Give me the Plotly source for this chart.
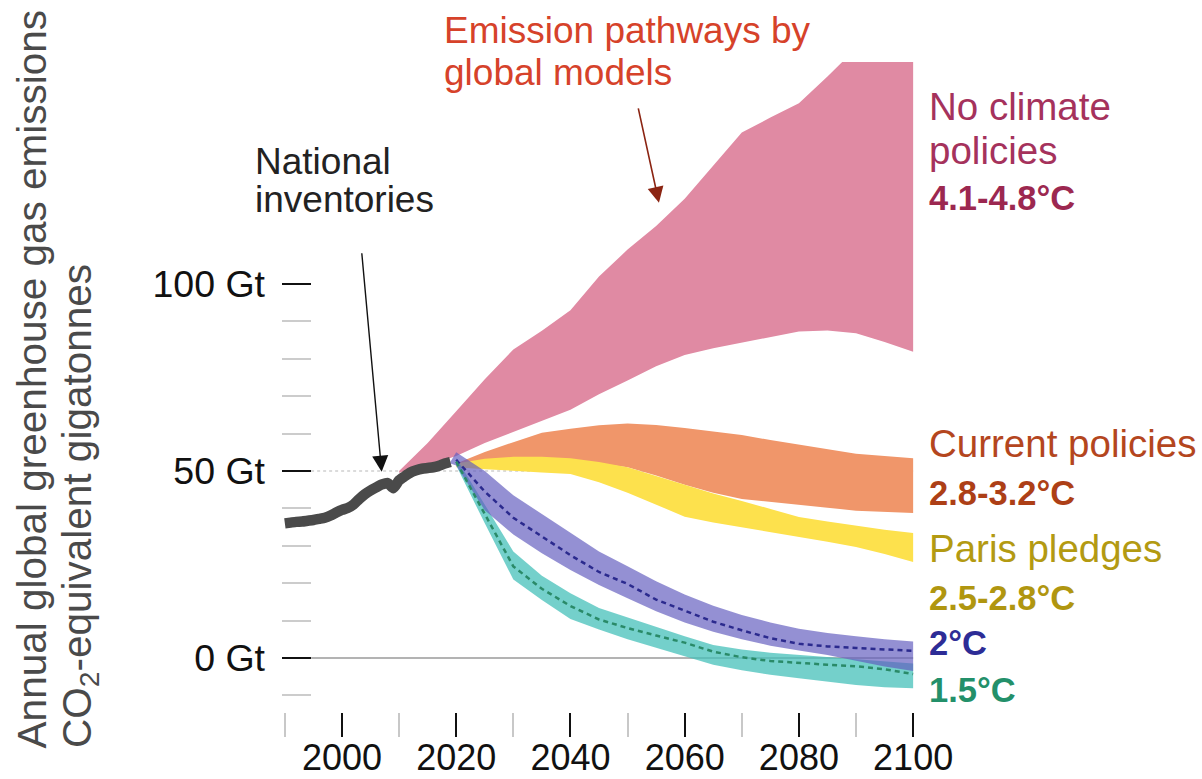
import plotly.graph_objects as go

# ---- data (Gt CO2-equivalent per year) ----
hist_years = list(range(1990, 2020))
hist_emissions = [36.0, 36.2, 36.4, 36.5, 36.7, 36.9, 37.2, 37.5, 38.1, 38.9,
                  39.6, 40.1, 41.0, 42.5, 43.8, 44.8, 45.6, 46.4, 46.8, 45.4,
                  47.5, 48.6, 49.6, 50.2, 50.6, 50.8, 51.0, 51.4, 52.0, 52.4]

no_policy_years = [2010, 2015, 2020, 2025, 2030, 2035, 2040, 2045, 2050, 2055,
                   2060, 2065, 2070, 2075, 2080, 2085, 2090, 2095, 2100]
no_policy_high = [50, 57.5, 66, 74.5, 82.5, 87.5, 93, 102, 109.2, 115.5,
                  122.8, 131.5, 140.5, 144.5, 148.3, 155.5, 163, 170, 176]
no_policy_low = [49.5, 51.5, 54, 57.5, 60.6, 63.5, 66.4, 70.5, 74.2, 78,
                 81, 82.8, 84.2, 85.8, 87.3, 87.6, 86.8, 84.5, 81.9]

scen_years = [2020, 2025, 2030, 2035, 2040, 2045, 2050, 2055, 2060,
              2065, 2070, 2075, 2080, 2085, 2090, 2095, 2100]

current_high = [52, 55.1, 57.7, 60.2, 61.3, 62.2, 62.7, 62.3, 61.5,
                60.6, 59.6, 58.3, 57, 55.8, 54.6, 54, 53.4]
current_low = [51.5, 52.5, 53, 53, 52.7, 52, 51, 48.8, 46.3,
               44.2, 42.5, 41.6, 41, 40.2, 39.4, 39, 38.8]

pledges_high = [52, 53.3, 53.8, 53.8, 53.4, 52.4, 51, 48.6, 46.3,
                44, 42, 39.8, 37.7, 36.5, 35.3, 34.3, 33.4]
pledges_low = [51, 50.5, 50, 49.6, 49.2, 47, 44.2, 41, 37.8,
               36.2, 34.8, 33.6, 32.4, 31.1, 29.7, 27.8, 25.7]

two_deg_years = [2019] + scen_years
two_deg_high = [52.5, 55, 50, 43.5, 38.5, 33.5, 28.5, 24.5, 20.5, 17,
                14, 11.5, 9.5, 7.8, 6.7, 5.8, 5, 4.4]
two_deg_low = [52, 51.5, 39.5, 33, 28, 23.5, 19.5, 16, 12.5, 9.5,
               7, 5, 3.3, 2, 0.8, -0.8, -2.3, -3.5]
two_deg_mid = [53, 44.5, 37.5, 32.5, 27.5, 23, 19.8, 15.6, 12.6,
               9.7, 7.4, 5.3, 3.8, 3.1, 2.7, 2.3, 1.9]

onefive_high = [53.5, 41, 28.5, 22, 17.3, 13.4, 10.8, 8.3, 5.8,
                3.5, 2.3, 1.4, 0.8, 0.3, -0.3, -0.9, -1.5]
onefive_mid = [52.5, 38.5, 24.5, 18.5, 13.9, 10.3, 8.0, 6.0, 4.1,
               1.7, 0.2, -0.8, -1.4, -1.8, -2.2, -3.0, -4.3]
onefive_low = [51.5, 36, 21, 15.5, 10.4, 7.6, 5.0, 2.7, 0.5,
               -1.8, -3.3, -4.5, -5.4, -6.4, -7.2, -7.8, -8.1]

x_major = [2000, 2020, 2040, 2060, 2080, 2100]
x_minor = [1990, 2010, 2030, 2050, 2070, 2090]
y_major = [0, 50, 100]
y_major_text = ["0 Gt", "50 Gt", "100 Gt"]
y_minor = [-10, 10, 20, 30, 40, 60, 70, 80, 90]

FONT = "Liberation Sans, Arial, Helvetica, sans-serif"


def band(years, high, low, color, name):
    return go.Scatter(
        x=list(years) + list(years)[::-1],
        y=list(high) + list(low)[::-1],
        fill="toself", fillcolor=color, mode="lines",
        line=dict(width=0, color=color), hoverinfo="skip", name=name,
        showlegend=False,
    )


fig = go.Figure()
fig.add_trace(band(no_policy_years, no_policy_high, no_policy_low,
                   "rgb(224,138,163)", "No climate policies"))
fig.add_trace(band(scen_years, current_high, current_low,
                   "rgb(240,150,106)", "Current policies"))
fig.add_trace(band(scen_years, pledges_high, pledges_low,
                   "rgb(253,225,77)", "Paris pledges"))
fig.add_trace(band(scen_years, onefive_high, onefive_low,
                   "rgba(70,192,186,0.75)", "1.5°C"))
fig.add_trace(band(two_deg_years, two_deg_high, two_deg_low,
                   "rgba(98,92,190,0.68)", "2°C"))

fig.add_trace(go.Scatter(x=scen_years, y=two_deg_mid, mode="lines",
                         line=dict(color="#2b2a8e", width=2.5, dash="5px,4px"),
                         hoverinfo="skip", showlegend=False))
fig.add_trace(go.Scatter(x=scen_years, y=onefive_mid, mode="lines",
                         line=dict(color="#2a8a68", width=2.5, dash="5px,4px"),
                         hoverinfo="skip", showlegend=False))

fig.add_trace(go.Scatter(x=hist_years, y=hist_emissions, mode="lines",
                         line=dict(color="#4a4a4a", width=10.5, shape="spline",
                                   smoothing=0.6),
                         hoverinfo="skip", showlegend=False))

# reference lines at 0 Gt and 50 Gt
fig.add_shape(type="line", xref="x", yref="y", x0=1994.6, x1=2100, y0=0, y1=0,
              line=dict(color="#9a9a9a", width=1.5), layer="below")
fig.add_shape(type="line", xref="x", yref="y", x0=1994.6, x1=2100, y0=50, y1=50,
              line=dict(color="#cfcfcf", width=1.5, dash="dot"), layer="below")

annotations = []


def label(text, x, y, color, size=38.5, bold=False):
    annotations.append(dict(
        text=f"<b>{text}</b>" if bold else text, x=x, y=y,
        xref="paper", yref="paper", xanchor="left", yanchor="middle",
        showarrow=False, font=dict(family=FONT, size=size, color=color)))


RIGHT = 1.0174
label("No climate", RIGHT, 0.9323, "#a5325c")
label("policies", RIGHT, 0.8646, "#a5325c")
label("4.1-4.8°C", RIGHT, 0.7908, "#9c2850", size=34.5, bold=True)
label("Current policies", RIGHT, 0.4138, "#b4461e")
label("2.8-3.2°C", RIGHT, 0.3369, "#ad3f16", size=34.5, bold=True)
label("Paris pledges", RIGHT, 0.2523, "#b39a12")
label("2.5-2.8°C", RIGHT, 0.1754, "#b09610", size=34.5, bold=True)
label("2°C", RIGHT, 0.1062, "#2d2c96", size=34.5, bold=True)
label("1.5°C", RIGHT, 0.0338, "#23906a", size=34.5, bold=True)

label("Emission pathways by", 0.2524, 1.0477, "#d6422a", size=37)
label("global models", 0.2524, 0.9846, "#d6422a", size=37)
label("National", -0.0457, 0.8462, "#222222", size=37)
label("inventories", -0.0457, 0.7877, "#222222", size=37)

# pointer arrows for the two callouts
annotations.append(dict(x=2006.95, y=49.8, xref="x", yref="y", text="",
                        showarrow=True, arrowhead=2, arrowsize=2.3,
                        arrowwidth=1.4, arrowcolor="#111111",
                        ax=-20, ay=-220, standoff=0))
annotations.append(dict(x=2055.5, y=121.7, xref="x", yref="y", text="",
                        showarrow=True, arrowhead=2, arrowsize=2.0,
                        arrowwidth=1.6, arrowcolor="#8b2412",
                        ax=-21, ay=-96, standoff=0))

# y-axis title, two rotated lines
annotations.append(dict(text="Annual global greenhouse gas emissions",
                        xref="paper", yref="paper", x=-0.3945, y=-0.0585,
                        xanchor="center", yanchor="bottom", textangle=-90,
                        showarrow=False,
                        font=dict(family=FONT, size=40.5, color="#4a4a4a")))
annotations.append(dict(text="CO<sub>2</sub>-equivalent gigatonnes",
                        xref="paper", yref="paper", x=-0.3186, y=-0.0585,
                        xanchor="center", yanchor="bottom", textangle=-90,
                        showarrow=False,
                        font=dict(family=FONT, size=40.5, color="#4a4a4a")))

fig.update_layout(
    width=1202, height=779,
    margin=dict(l=282, r=286, t=62, b=67, pad=0),
    paper_bgcolor="white", plot_bgcolor="white",
    font=dict(family=FONT, size=37, color="#111111"),
    showlegend=False,
    annotations=annotations,
    xaxis=dict(
        range=[1989.5, 2100.5], showgrid=False, zeroline=False, showline=False,
        automargin=False,
        tickmode="array", tickvals=x_major, ticktext=[str(v) for v in x_major],
        ticks="outside", ticklen=24, tickwidth=2, tickcolor="#111111",
        ticklabelstandoff=-10,
        tickfont=dict(family=FONT, size=36, color="#111111"),
        minor=dict(tickmode="array", tickvals=x_minor, ticks="outside",
                   ticklen=24, tickwidth=1.5, tickcolor="#c8c8c8"),
    ),
    yaxis=dict(
        range=[-14.44, 159.36], showgrid=False, zeroline=False, showline=False,
        automargin=False,
        tickmode="array", tickvals=y_major, ticktext=y_major_text,
        ticks="inside", ticklen=29, tickwidth=2, tickcolor="#111111",
        ticklabelstandoff=16,
        tickfont=dict(family=FONT, size=37.5, color="#111111"),
        minor=dict(tickmode="array", tickvals=y_minor, ticks="inside",
                   ticklen=29, tickwidth=1.5, tickcolor="#cccccc"),
    ),
)

fig.write_html("out.html")
